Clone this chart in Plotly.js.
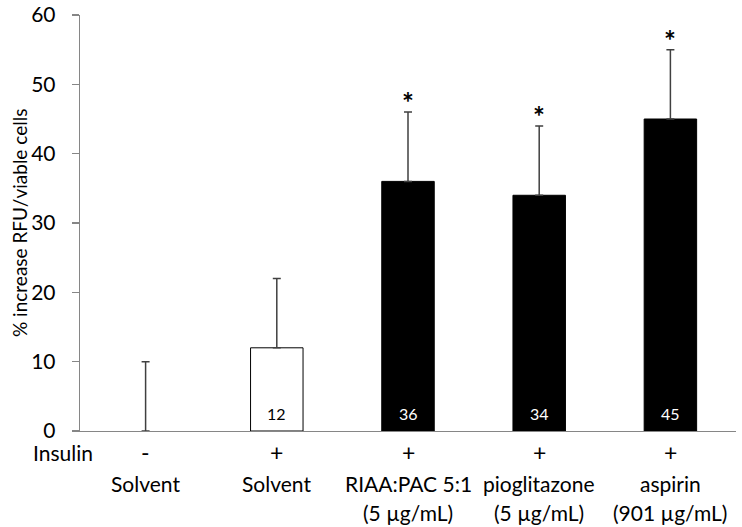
<!DOCTYPE html>
<html>
<head>
<meta charset="utf-8">
<script src="https://cdn.plot.ly/plotly-3.0.1.min.js"></script>
<style>html,body{margin:0;padding:0;background:#fff;}#chart{width:742px;height:527px;}</style>
</head>
<body>
<div id="chart"></div>
<script>
// ---- data ----
const categories = ['c1', 'c2', 'c3', 'c4', 'c5'];
const insulin = ['-', '+', '+', '+', '+'];
const names = ['Solvent', 'Solvent', 'RIAA:PAC 5:1', 'pioglitazone', 'aspirin'];
const doses = ['', '', '(5 µg/mL)', '(5 µg/mL)', '(901 µg/mL)'];
const means = [0, 12, 36, 34, 45];
const errors = [10, 10, 10, 10, 10];
const significant = [false, false, true, true, true];
const showValue = [false, true, true, true, true];
const barColors = ['#ffffff', '#ffffff', '#000000', '#000000', '#000000'];
const barOutline = [0, 1, 1, 1, 1];
const valueColors = ['#000000', '#000000', '#ffffff', '#ffffff', '#ffffff'];
const yTicks = [0, 10, 20, 30, 40, 50, 60];

const FONT = 'Lato, Calibri, Carlito, sans-serif';
const LBL = 21;

const trace = {
  type: 'bar',
  x: categories,
  y: means,
  marker: { color: barColors, line: { color: '#000000', width: barOutline } },
  error_y: {
    type: 'data', symmetric: false, array: errors,
    arrayminus: errors.map(() => 0),
    color: '#404040', thickness: 1.5, width: 4
  },
  hoverinfo: 'none'
};

const annotations = [];
categories.forEach((c, i) => {
  if (showValue[i]) {
    annotations.push({ x: c, y: 0, xref: 'x', yref: 'y', text: String(means[i]),
      showarrow: false, yanchor: 'middle', yshift: 18,
      font: { family: FONT, size: 16, color: valueColors[i] } });
  }
  if (significant[i]) {
    annotations.push({ x: c, y: means[i] + errors[i], xref: 'x', yref: 'y', text: '<b>*</b>',
      showarrow: false, yanchor: 'bottom', yshift: -9,
      font: { family: FONT, size: 28, color: '#000' } });
  }
  annotations.push({ x: c, y: 0, xref: 'x', yref: 'y', text: insulin[i],
    showarrow: false, yanchor: 'middle', yshift: -21,
    font: { family: FONT, size: LBL + 2, color: '#000' } });
  annotations.push({ x: c, y: 0, xref: 'x', yref: 'y', text: names[i],
    showarrow: false, yanchor: 'middle', yshift: -52,
    font: { family: FONT, size: LBL, color: '#000' } });
  if (doses[i]) {
    annotations.push({ x: c, y: 0, xref: 'x', yref: 'y', text: doses[i],
      showarrow: false, yanchor: 'middle', yshift: -81,
      font: { family: FONT, size: LBL, color: '#000' } });
  }
});
annotations.push({ x: 0, y: 0, xref: 'paper', yref: 'y', text: 'Insulin',
  showarrow: false, xanchor: 'right', yanchor: 'middle', xshift: 15, yshift: -21,
  font: { family: FONT, size: LBL, color: '#000' } });
annotations.push({ x: 0, y: 0.5, xref: 'paper', yref: 'paper', text: '% increase RFU/viable cells',
  showarrow: false, textangle: -90, xanchor: 'center', yanchor: 'middle', xshift: -61,
  font: { family: FONT, size: 19, color: '#000' } });

const layout = {
  width: 742, height: 527,
  margin: { l: 80, r: 6, t: 15, b: 96 },
  paper_bgcolor: '#fff', plot_bgcolor: '#fff',
  showlegend: false,
  bargap: 0.6,
  font: { family: FONT, color: '#000' },
  xaxis: {
    type: 'category', showline: true, linecolor: '#868686', linewidth: 1.3,
    showticklabels: false, ticks: '', showgrid: false, zeroline: false,
    fixedrange: true
  },
  yaxis: {
    range: [0, 60], tickvals: yTicks, showline: true, linecolor: '#868686', linewidth: 1.3,
    ticks: 'outside', ticklen: 7, tickcolor: '#868686', tickwidth: 1.3,
    ticklabelstandoff: 12,
    tickfont: { family: FONT, size: 21, color: '#000' },
    showgrid: false, zeroline: false, fixedrange: true
  },
  annotations: annotations
};

Plotly.newPlot('chart', [trace], layout, { staticPlot: true, displayModeBar: false });
</script>
</body>
</html>
